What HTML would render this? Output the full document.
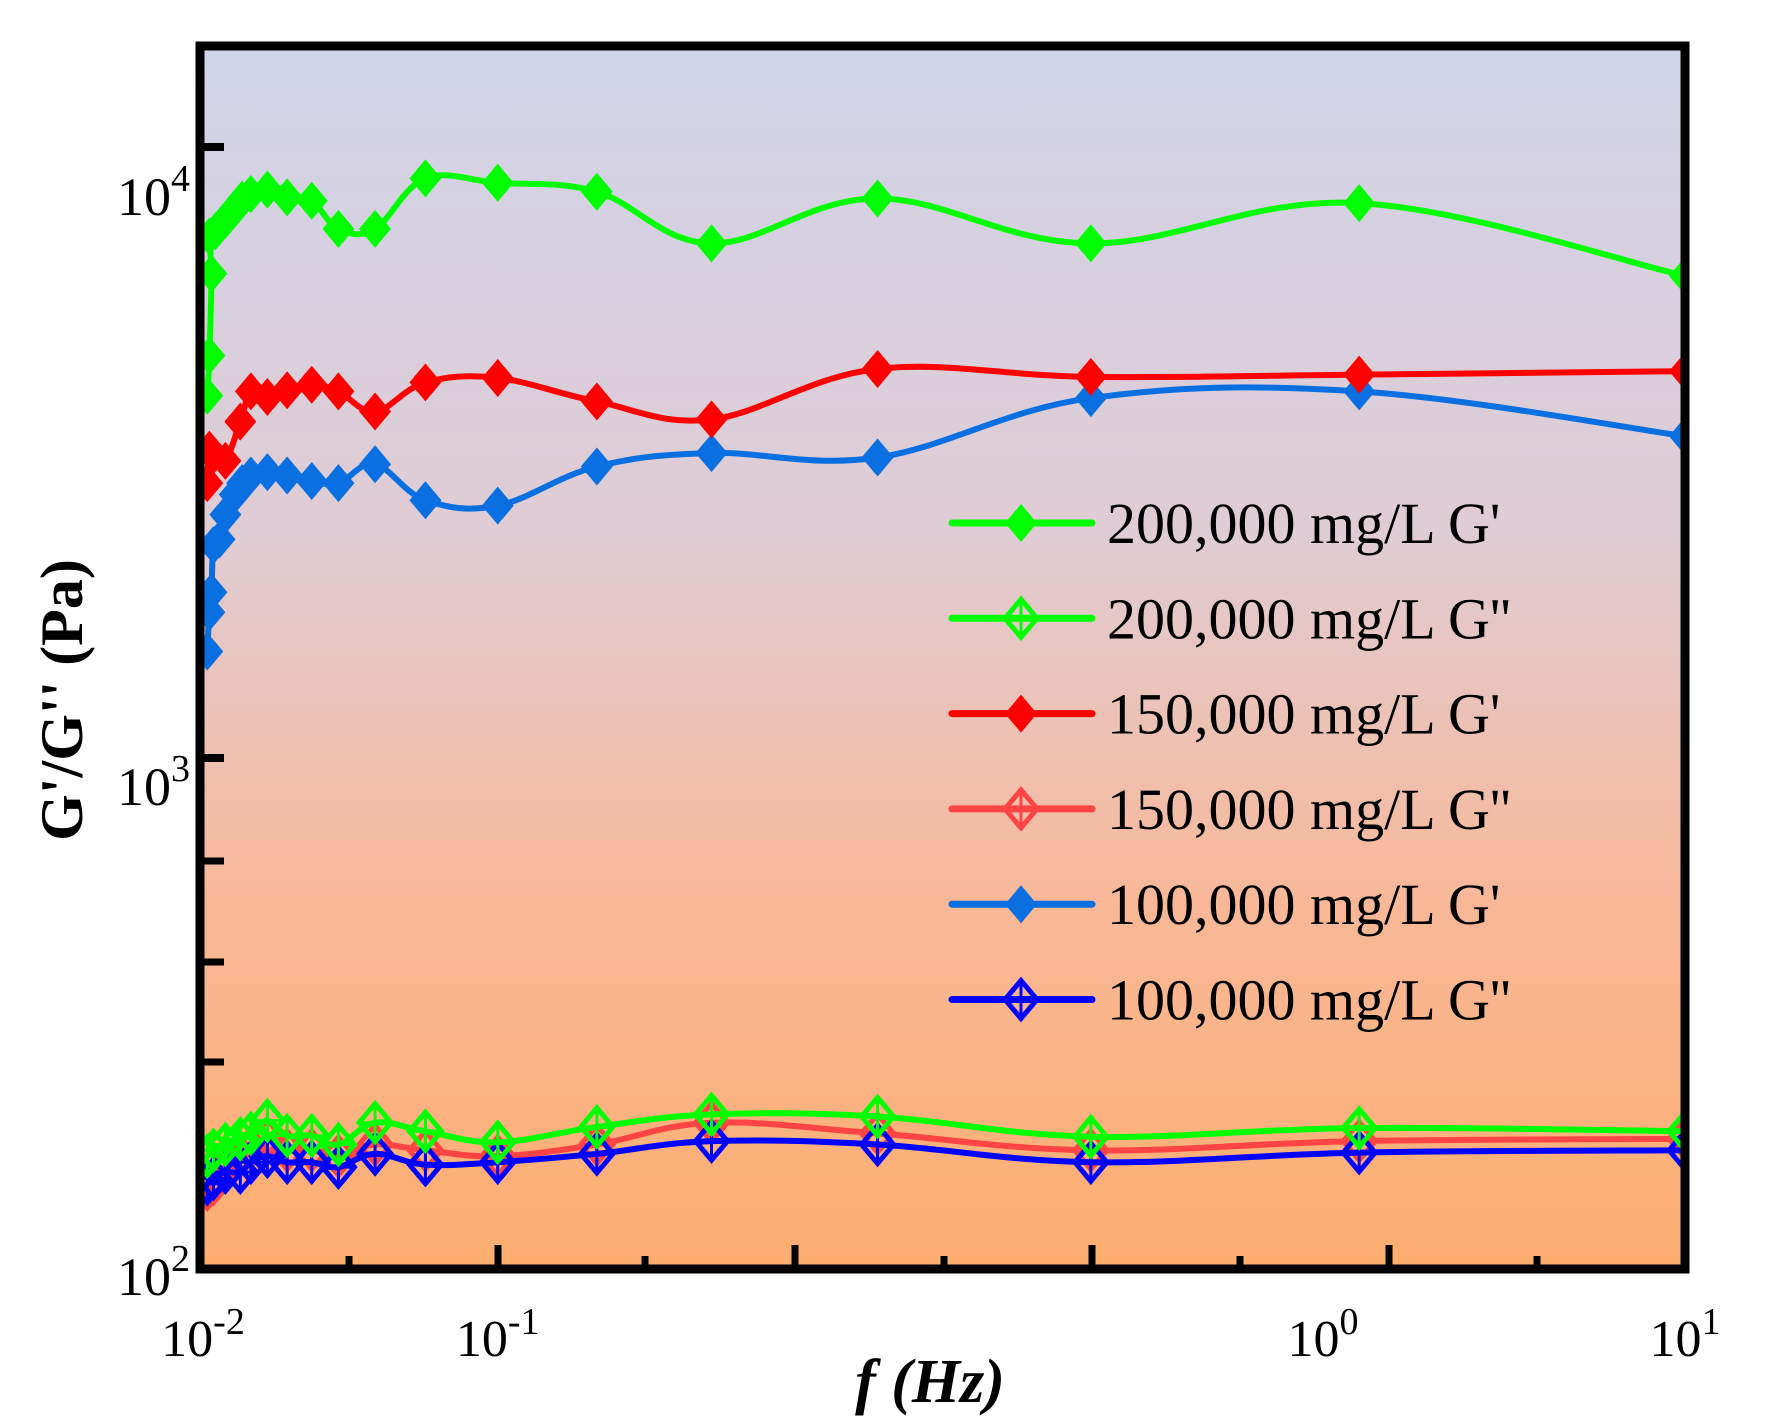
<!DOCTYPE html>
<html><head><meta charset="utf-8">
<style>
html,body{margin:0;padding:0;background:#fff;}
svg{display:block;}
text{font-family:"Liberation Serif",serif;fill:#000;}
</style></head>
<body>
<svg id="chart" width="1765" height="1419" viewBox="0 0 1765 1419" xmlns="http://www.w3.org/2000/svg">
<defs>
<linearGradient id="bg" x1="0" y1="0" x2="0" y2="1">
<stop offset="0" stop-color="#d0d4e8"/>
<stop offset="0.4" stop-color="#e0ccd4"/>
<stop offset="0.7" stop-color="#f8b898"/>
<stop offset="1" stop-color="#fdae6e"/>
</linearGradient>
<clipPath id="clip"><rect x="200" y="46" width="1485" height="1223"/></clipPath>
</defs>
<rect x="200" y="46" width="1485" height="1223" fill="url(#bg)"/>
<g id="series" clip-path="url(#clip)"></g>
<g id="ticks"></g>
<rect x="200" y="46" width="1485" height="1223" fill="none" stroke="#000" stroke-width="9"/>
<g id="labels"></g>
<text x="930" y="1402" text-anchor="middle" font-size="62" font-weight="bold" font-style="italic">f (Hz)</text>
<text transform="translate(82,700) rotate(-90)" text-anchor="middle" font-size="60" font-weight="bold">G'/G'' (Pa)</text>
<g id="legend"></g>
</svg>
<script>
// ---- data ----
const freqA = [0.0102,0.0103,0.0104,0.0103,0.0106,0.0111,0.0116,0.0120,0.0125,0.0135,0.0148,0.0166,0.0188,0.0223,0.0282,0.0395,0.0627,0.107,0.232,0.627,2.19,10];
const g200G1 = [3917,4557,6204,7133,7284,7598,7929,8202,8375,8518,8272,8167,7346,7346,8884,8738,8447,6955,8237,6955,8095,6152];
const freqB = [0.0102,0.0103,0.0105,0.0111,0.0119,0.0125,0.0135,0.0148,0.0166,0.0188,0.0223,0.0282,0.0395,0.0627,0.107,0.232,0.627,2.19,10];
const g150G1 = [2817,3196,3129,3064,3552,3981,3898,3998,4083,3981,3690,4118,4188,3833,3583,4332,4205,4241,4296];
const freqC = [0.0102,0.0103,0.0104,0.0105,0.0108,0.0111,0.0116,0.0120,0.0125,0.0135,0.0148,0.0166,0.0188,0.0223,0.0282,0.0395,0.0627,0.107,0.232,0.627,2.19,10];
const g100G1 = [1494,1732,1868,2231,2279,2502,2699,2817,2900,2937,2900,2840,2817,3025,2642,2588,3000,3156,3103,3882,3981,3363];
const freqD = [0.0102,0.0105,0.0111,0.0119,0.0125,0.0135,0.0148,0.0166,0.0188,0.0223,0.0282,0.0395,0.0627,0.107,0.232,0.627,2.19,10];
const g200G2 = [223,228,233,238,243,255,241,241,233,253,245,235,249,261,259,240,248,245];
const g150G2 = [197,201,214,223,230,238,228,228,223,233,228,223,233,253,243,228,236,238];
const g100G2 = [201,205,210,210,218,223,218,218,214,225,216,218,225,236,233,218,226,228];
const xTickVals = [0.01,0.0395,1.85,10];
const xTickSup = ["-2","-1","0","1"];
const yTickVals = [10000,1000,100];
const yTickSup = ["4","3","2"];
const legendLabels = ["200,000 mg/L G'","200,000 mg/L G''","150,000 mg/L G'","150,000 mg/L G''","100,000 mg/L G'","100,000 mg/L G''"];

// ---- axes ----
const X0=203,X1=1685;
function xs(f){return X0+(Math.log10(f)+2)/3*(X1-X0);}
const Y4=147,Y3=758;
function ys(v){return Y3-(Math.log10(v)-3)*(Y3-Y4);}
const NS="http://www.w3.org/2000/svg";
function mk(tag,attrs,parent){const e=document.createElementNS(NS,tag);for(const k in attrs)e.setAttribute(k,attrs[k]);parent.appendChild(e);return e;}

function smoothPath(pts){
  let d="M"+pts[0][0]+","+pts[0][1];
  for(let i=0;i<pts.length-1;i++){
    const p0=pts[Math.max(0,i-1)],p1=pts[i],p2=pts[i+1],p3=pts[Math.min(pts.length-1,i+2)];
    const t=0.18;
    const c1x=p1[0]+(p2[0]-p0[0])*t,c1y=p1[1]+(p2[1]-p0[1])*t;
    const c2x=p2[0]-(p3[0]-p1[0])*t,c2y=p2[1]-(p3[1]-p1[1])*t;
    d+=" C"+c1x+","+c1y+" "+c2x+","+c2y+" "+p2[0]+","+p2[1];
  }
  return d;
}
function marker(g,x,y,color,open){
  const w=16,h=19;
  const pts=(x-w)+","+y+" "+x+","+(y-h)+" "+(x+w)+","+y+" "+x+","+(y+h);
  if(open){
    const p=mk("polygon",{points:pts,fill:"none",stroke:color,"stroke-width":5},g);
    
    
    mk("line",{x1:x-w,y1:y,x2:x+w,y2:y,stroke:color,"stroke-width":3},g);
    mk("line",{x1:x,y1:y-h,x2:x,y2:y+h,stroke:color,"stroke-width":3},g);
  } else {
    const p=mk("polygon",{points:pts,fill:color},g);
    
    
  }
}
const series=[
  {f:freqD,v:g150G2,c:"#ff4444",open:true,name:"series-150k-g2"},
  {f:freqD,v:g100G2,c:"#0000ff",open:true,name:"series-100k-g2"},
  {f:freqD,v:g200G2,c:"#00ff00",open:true,name:"series-200k-g2"},
  {f:freqC,v:g100G1,c:"#0a6fe0",open:false,name:"series-100k-g1"},
  {f:freqB,v:g150G1,c:"#ff0000",open:false,name:"series-150k-g1"},
  {f:freqA,v:g200G1,c:"#00ff00",open:false,name:"series-200k-g1"}
];
const sg=document.getElementById("series");
series.forEach(s=>{
  const g=mk("g",{},sg);
  
  
  const pts=s.f.map((f,i)=>[xs(f),ys(s.v[i])]);
  const path=mk("path",{d:smoothPath(pts),fill:"none",stroke:s.c,"stroke-width":6,"stroke-linejoin":"round"},g);
  
  
  pts.forEach(p=>marker(g,p[0],p[1],s.c,s.open));
});

// ticks
const tg=document.getElementById("ticks");
[10000,1000].forEach(v=>{const l=mk("line",{x1:200,x2:224,y1:ys(v),y2:ys(v),stroke:"#000","stroke-width":8},tg);

});
[861,962,1062].forEach(y=>{const l=mk("line",{x1:200,x2:224,y1:y,y2:y,stroke:"#000","stroke-width":7},tg);

});
[498,795,1092,1389].forEach(x=>{const l=mk("line",{x1:x,x2:x,y1:1269,y2:1245,stroke:"#000","stroke-width":7},tg);

});
[349,645,944,1240,1537].forEach(x=>{const l=mk("line",{x1:x,x2:x,y1:1269,y2:1256,stroke:"#000","stroke-width":7},tg);

});

// tick labels
const lg=document.getElementById("labels");
xTickVals.forEach((v,i)=>{
  const t=mk("text",{x:xs(v),y:1356,"text-anchor":"middle","font-size":52},lg);
  
  
  t.innerHTML='10<tspan dy="-22" font-size="38">'+xTickSup[i]+'</tspan>';
});
const yLabelY=[215,805,1295];
yTickVals.forEach((v,i)=>{
  const t=mk("text",{x:190,y:yLabelY[i],"text-anchor":"end","font-size":54},lg);
  
  
  t.innerHTML='10<tspan dy="-24" font-size="38">'+yTickSup[i]+'</tspan>';
});

// legend
const leg=document.getElementById("legend");
const legSeries=[series[5],series[2],series[4],series[0],series[3],series[1]];
legendLabels.forEach((lab,i)=>{
  const y=523+i*95.3;
  const g=mk("g",{},leg);
  
  
  const s=legSeries[i];
  mk("line",{x1:952,x2:1092,y1:y,y2:y,stroke:s.c,"stroke-width":7,"stroke-linecap":"round"},g);
  marker(g,1021,y,s.c,s.open);
  const t=mk("text",{x:1107,y:y+20,"font-size":58},g);
  
  
  t.textContent=lab;
});
</script>
</body></html>
